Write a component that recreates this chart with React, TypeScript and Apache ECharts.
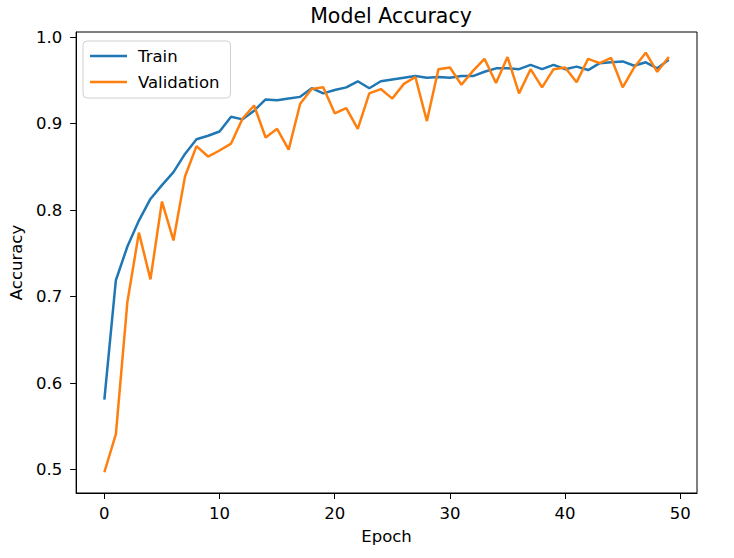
import React, { useEffect, useRef } from "react";
import * as echarts from "echarts";

const epochs: number[] = Array.from({ length: 50 }, (_, i) => i);

const trainAcc: number[] = [
  0.581, 0.719, 0.758, 0.788, 0.813, 0.829, 0.844, 0.865, 0.882, 0.886,
  0.891, 0.908, 0.905, 0.915, 0.928, 0.927, 0.929, 0.931, 0.941, 0.935,
  0.939, 0.942, 0.949, 0.941, 0.949, 0.951, 0.953, 0.955, 0.953, 0.954,
  0.953, 0.955, 0.955, 0.960, 0.964, 0.964, 0.963, 0.968, 0.963, 0.968,
  0.963, 0.966, 0.962, 0.970, 0.971, 0.972, 0.967, 0.971, 0.964, 0.974,
];

const valAcc: number[] = [
  0.497, 0.541, 0.694, 0.774, 0.72, 0.81, 0.765, 0.839, 0.874, 0.862,
  0.869, 0.877, 0.906, 0.921, 0.884, 0.894, 0.87, 0.923, 0.94, 0.942,
  0.912, 0.918, 0.894, 0.935, 0.94, 0.929, 0.946, 0.954, 0.903, 0.963,
  0.965, 0.945, 0.961, 0.975, 0.947, 0.977, 0.935, 0.963, 0.942, 0.963,
  0.965, 0.948, 0.975, 0.97, 0.976, 0.942, 0.965, 0.982, 0.96, 0.977,
];

const xTicks: number[] = [0, 10, 20, 30, 40, 50];
const yTicks: number[] = [0.5, 0.6, 0.7, 0.8, 0.9, 1.0];

const FONT = "DejaVu Sans";

export default function App() {
  const ref = useRef<HTMLDivElement>(null);
  useEffect(() => {
    if (!ref.current) return;
    const chart = echarts.init(ref.current, undefined, { renderer: "svg" });
    const axisCommon = {
      axisLine: { show: true, onZero: false, lineStyle: { color: "#000", width: 1 } },
      axisTick: { show: true, length: 6, inside: false, lineStyle: { color: "#000", width: 1 } },
      splitLine: { show: false },
      nameLocation: "middle",
      nameTextStyle: { fontFamily: FONT, fontSize: 16.5, color: "#000" },
    };
    chart.setOption({
      animation: false,
      backgroundColor: "#fff",
      title: {
        text: "Model Accuracy",
        left: 386,
        textAlign: "center",
        top: 0,
        textStyle: { fontFamily: FONT, fontSize: 20.5, fontWeight: "normal", color: "#000" },
      },
      grid: {
        left: 75,
        right: 37,
        top: 32,
        bottom: 65,
        show: true,
        borderColor: "#000",
        borderWidth: 1,
        backgroundColor: "transparent",
      },
      legend: {
        orient: "vertical",
        left: 83,
        top: 41,
        icon: "rect",
        itemWidth: 37,
        itemHeight: 2.5,
        itemGap: 8,
        padding: [6, 11, 7, 7],
        backgroundColor: "rgba(255,255,255,0.8)",
        borderColor: "#d0d0d0",
        borderWidth: 1,
        borderRadius: 4,
        textStyle: { fontFamily: FONT, fontSize: 16.5, color: "#000", lineHeight: 18, padding: [0, 0, 0, 6] },
        data: ["Train", "Validation"],
      },
      xAxis: {
        ...axisCommon,
        type: "value",
        min: -2.45,
        max: 51.45,
        name: "Epoch",
        nameGap: 35,
        axisTick: { ...axisCommon.axisTick, customValues: xTicks },
        axisLabel: {
          customValues: xTicks,
          margin: 12,
          fontFamily: FONT,
          fontSize: 16.5,
          color: "#000",
        },
      },
      yAxis: {
        ...axisCommon,
        type: "value",
        min: 0.473,
        max: 1.006,
        name: "Accuracy",
        nameGap: 47,
        nameRotate: 90,
        axisTick: { ...axisCommon.axisTick, customValues: yTicks },
        axisLabel: {
          customValues: yTicks,
          margin: 14,
          fontFamily: FONT,
          fontSize: 16.5,
          color: "#000",
          formatter: (v: number) => v.toFixed(1),
        },
      },
      series: [
        {
          name: "Train",
          type: "line",
          data: epochs.map((e, i) => [e, trainAcc[i]]),
          showSymbol: false,
          symbol: "none",
          lineStyle: { color: "#1f77b4", width: 2.5 },
          itemStyle: { color: "#1f77b4" },
        },
        {
          name: "Validation",
          type: "line",
          data: epochs.map((e, i) => [e, valAcc[i]]),
          showSymbol: false,
          symbol: "none",
          lineStyle: { color: "#ff7f0e", width: 2.5 },
          itemStyle: { color: "#ff7f0e" },
        },
      ],
    });
    return () => chart.dispose();
  }, []);
  return (
    <div
      ref={ref}
      style={{ position: "fixed", left: 0, top: 0, width: 734, height: 558, background: "#fff" }}
    />
  );
}
